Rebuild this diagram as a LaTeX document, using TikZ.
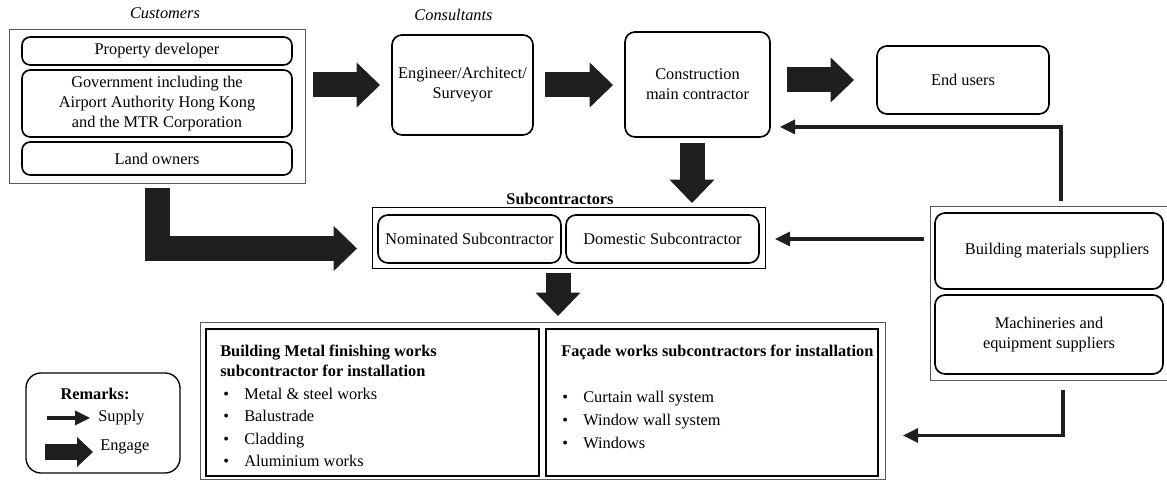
\documentclass[tikz,border=0pt]{standalone}
\usepackage{fontspec}
\setmainfont{Liberation Serif}
\usetikzlibrary{arrows.meta}

\tikzset{
  sz/.style 2 args={minimum width=#1*0.6pt, minimum height=#2*0.6pt},
  rbox/.style={draw, rounded corners=6pt, line width=1pt, align=center, inner sep=0pt, outer sep=0pt},
  outer/.style={draw=black!65, line width=0.6pt, inner sep=0pt, outer sep=0pt},
  wbox/.style={draw, line width=1.3pt, inner sep=0pt, outer sep=0pt},
  engage/.style={line width=15pt, draw=black!88, -{Triangle[length=14pt,width=27pt,line width=0pt]}},
  supply/.style={line width=2pt, draw=black!88, -{Triangle[length=9pt,width=9pt,line width=0pt]}},
  itemtxt/.style={anchor=north west, align=left, inner sep=0pt},
}
\newcommand{\bul}[1]{\makebox[12.6pt][l]{\textbullet}#1}

\begin{document}
\begin{tikzpicture}[x=0.6pt, y=-0.6pt, font=\fontsize{9.8}{12}\selectfont]
\useasboundingbox (0,0) rectangle (1167,481);

% customers and consultants
\node[outer, sz={296}{154}] (cust) at (157,107) {};
\node[rbox, rounded corners=5pt, sz={270}{28}] (dev) at (157,51) {Property developer};
\node[rbox, rounded corners=5pt, sz={270}{67}] (gov) at (157,103.5) {Government including the\\Airport Authority Hong Kong\\and the MTR Corporation};
\node[rbox, rounded corners=5pt, sz={270}{33}] (land) at (157,158.5) {Land owners};
\node[font=\fontsize{9.8}{12}\selectfont\itshape] (custlbl) at (165,13) {Customers};

\node[rbox, sz={141}{100}] (eng) at (462.5,85) {Engineer/Architect/\\Surveyor};
\node[font=\fontsize{9.8}{12}\selectfont\itshape] (conslbl) at (453.5,15) {Consultants};
\node[rbox, sz={145}{105}] (con) at (697.5,84.5) {Construction\\main contractor};
\node[rbox, sz={172}{68}] (users) at (963,80) {End users};

% subcontractors
\node[outer, draw=black, sz={393}{61}] (sub) at (568.5,238.5) {};
\node[rbox, sz={183}{48}] (nom) at (469.5,239) {Nominated Subcontractor};
\node[rbox, sz={193}{48}] (dom) at (662.5,239) {Domestic Subcontractor};
\node[font=\fontsize{9.8}{12}\selectfont\bfseries] (sublbl) at (560,199) {Subcontractors};

% suppliers
\node[outer, sz={238}{174}] (sup) at (1049,294) {};
\node[rbox, sz={228}{76}] (mat) at (1049,251) {\hspace*{9.6pt}Building materials suppliers};
\node[rbox, sz={228}{79}] (mach) at (1049,334.5) {Machineries and\\equipment suppliers};

% installation works
\node[outer, sz={685}{157}] (works) at (542.5,401.5) {};
\node[wbox, sz={333}{147}] (metal) at (372.5,402.5) {};
\node[wbox, sz={332}{147}] (facade) at (712,402.5) {};
\node[itemtxt] (metaltxt) at (220,345) {\textbf{Building Metal finishing works}\\
  \textbf{subcontractor for installation}\\[1.5pt]
  \hspace*{1.8pt}\bul{Metal \& steel works}\\[1.5pt]
  \hspace*{1.8pt}\bul{Balustrade}\\[1.5pt]
  \hspace*{1.8pt}\bul{Cladding}\\[1.5pt]
  \hspace*{1.8pt}\bul{Aluminium works}};
\node[itemtxt] (facadetxt) at (561,345) {\textbf{Façade works subcontractors for installation}\\[15.6pt]
  \hspace*{0.6pt}\bul{Curtain wall system}\\[1.8pt]
  \hspace*{0.6pt}\bul{Window wall system}\\[1.8pt]
  \hspace*{0.6pt}\bul{Windows}};

% remarks
\node[rbox, line width=0.8pt, rounded corners=9pt, sz={154}{100}] (rem) at (103,423) {};
\node[font=\fontsize{9.8}{12}\selectfont\bfseries] (remlbl) at (95,394) {Remarks:};
\node[anchor=west, inner sep=0pt] (suptxt) at (98,418) {Supply};
\node[anchor=west, inner sep=0pt] (engtxt) at (100,447) {Engage};
\draw[supply] ([xshift=-30.6pt]suptxt.west) -- ([xshift=-4.8pt]suptxt.west);
\draw[engage, line width=10pt, -{Triangle[length=9.6pt,width=18pt,line width=0pt]}] ([xshift=-33pt,yshift=-3pt]engtxt.west) -- ([xshift=-4.2pt,yshift=-3pt]engtxt.west);

% engage
\draw[engage, shorten <=4.8pt, shorten >=7.2pt] (cust.east |- eng.west) -- (eng.west);
\draw[engage, shorten <=7.2pt, shorten >=7.2pt] (eng.east) -- (con.west |- eng.east);
\draw[engage, shorten <=10.2pt, shorten >=13.8pt] (con.east |- users.west) -- (users.west);
\draw[engage, shorten <=3.6pt, shorten >=3pt] ([xshift=-3.3pt]con.south) -- ([xshift=-3.3pt]con.south |- sub.north);
\draw[engage, shorten <=2.4pt, shorten >=9pt] (cust.south) |- ([yshift=-6pt]sub.west);
\draw[engage, shorten <=2.4pt, shorten >=4.2pt] ([xshift=-6.3pt]sub.south) -- ([xshift=-6.3pt]sub.south |- works.north);

% supply
\draw[supply, shorten <=3.6pt, shorten >=6pt] ([xshift=7.2pt]sup.north) |- ([yshift=6pt]con.south east);
\draw[supply, shorten <=3.6pt, shorten >=6pt] (sup.west |- dom.east) -- (sub.east |- dom.east);
\draw[supply, shorten <=5.4pt, shorten >=10.8pt] ([xshift=8.4pt]sup.south) |- ([yshift=-20.4pt]works.east);
\end{tikzpicture}
\end{document}
